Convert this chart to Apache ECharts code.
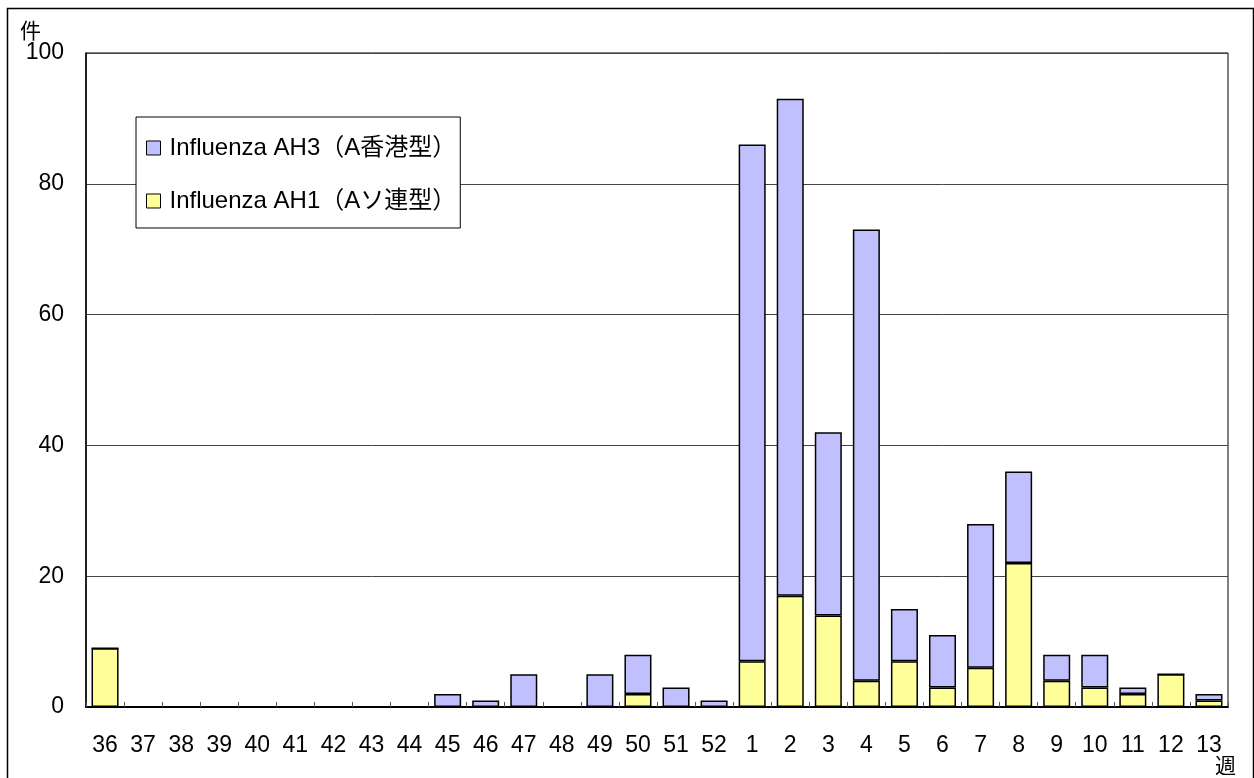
<!DOCTYPE html>
<html>
<head>
<meta charset="utf-8">
<script src="https://cdn.jsdelivr.net/npm/echarts@6/dist/echarts.min.js"></script>
<style>
html,body{margin:0;padding:0;background:#fff;}
#chart{width:1254px;height:778px;}
</style>
</head>
<body>
<div id="chart"></div>
<script>
var weeks = ['36','37','38','39','40','41','42','43','44','45','46','47','48','49','50','51','52','1','2','3','4','5','6','7','8','9','10','11','12','13'];
var ah1 = [9,0,0,0,0,0,0,0,0,0,0,0,0,0,2,0,0,7,17,14,4,7,3,6,22,4,3,2,5,1];
var ah3 = [0,0,0,0,0,0,0,0,0,2,1,5,0,5,6,3,1,79,76,28,69,8,8,22,14,4,5,1,0,1];
var nameAH3 = 'Influenza AH3（A香港型）';
var nameAH1 = 'Influenza AH1（Aソ連型）';
var yUnit = '件';
var xUnit = '週';

var FONT = "'Liberation Sans','Noto Sans CJK JP',sans-serif";
var chart = echarts.init(document.getElementById('chart'));
chart.setOption({
  animation: false,
  backgroundColor: '#fff',
  textStyle: {fontFamily: FONT},
  grid: {left: 86, right: 26, top: 53, bottom: 71, show: true, borderColor: '#000', borderWidth: 1, backgroundColor: 'transparent'},
  legend: {
    orient: 'vertical', left: 136, top: 117,
    data: [nameAH3, nameAH1],
    icon: 'rect', itemWidth: 14, itemHeight: 14, itemGap: 29,
    padding: [19, 4, 15, 10],
    borderColor: '#000', borderWidth: 1, backgroundColor: '#fff',
    textStyle: {fontSize: 24, color: '#000', fontFamily: FONT, padding: [0, 0, 0, 4]},
    itemStyle: {borderColor: '#000', borderWidth: 1}
  },
  xAxis: {
    type: 'category', data: weeks,
    axisLine: {lineStyle: {color: '#000', width: 2}},
    axisTick: {show: true, inside: true, length: 5, alignWithLabel: false, lineStyle: {color: '#555', width: 1}},
    axisLabel: {fontSize: 23, color: '#000', margin: 27, interval: 0, fontFamily: FONT}
  },
  yAxis: {
    type: 'value', min: 0, max: 100, interval: 20,
    axisLine: {show: true, lineStyle: {color: '#000', width: 1.5}},
    axisTick: {show: false},
    splitLine: {lineStyle: {color: '#444', width: 1}},
    axisLabel: {fontSize: 23, color: '#000', margin: 22, fontFamily: FONT}
  },
  graphic: [
    {type: 'rect', left: 5, top: 6, shape: {width: 1246, height: 790}, style: {fill: 'none', stroke: '#000', lineWidth: 1.5}, silent: true, z: -1},
    {type: 'text', left: 20, top: 22, style: {text: yUnit, fontSize: 21, fill: '#000', fontFamily: FONT}},
    {type: 'text', left: 1215, top: 757, style: {text: xUnit, fontSize: 21, fill: '#000', fontFamily: FONT}}
  ],
  series: [
    {name: nameAH1, type: 'bar', stack: 'total', data: ah1, barWidth: '71%',
     itemStyle: {color: '#FFFF99', borderColor: '#000', borderWidth: 1.5}},
    {name: nameAH3, type: 'bar', stack: 'total', data: ah3, barWidth: '71%',
     itemStyle: {color: '#C0C0FF', borderColor: '#000', borderWidth: 1.5}}
  ]
});
</script>
</body>
</html>
